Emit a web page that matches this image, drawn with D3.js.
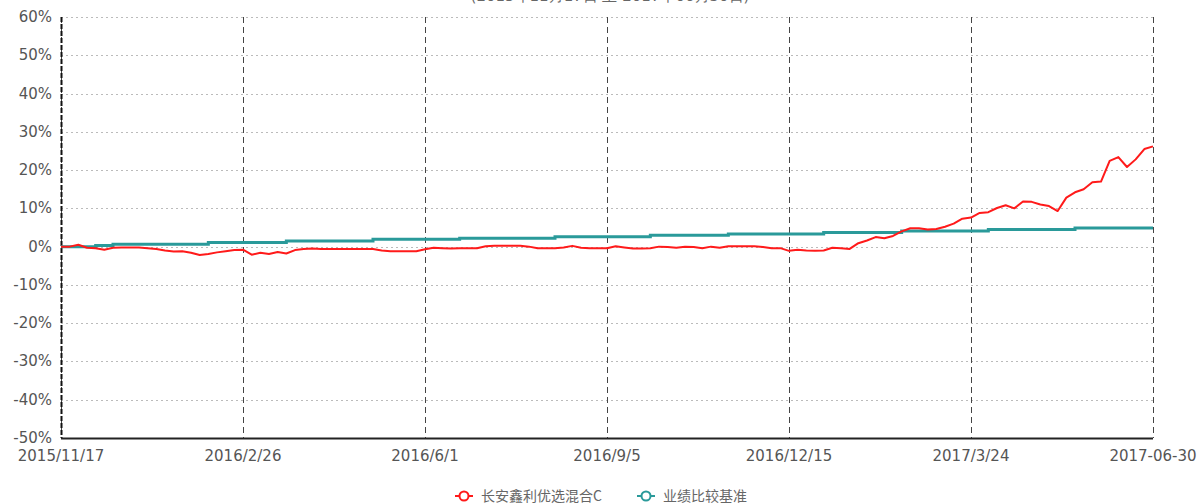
<!DOCTYPE html>
<html>
<head>
<meta charset="utf-8">
<script src="https://cdn.jsdelivr.net/npm/d3@7"></script>
<style>
  html, body { margin: 0; padding: 0; background: #fff; }
  svg { display: block; }
</style>
</head>
<body>
<script>
// tick labels sit on every 21st sample point
var tickLabels = ["2015/11/17", "2016/2/26", "2016/6/1", "2016/9/5", "2016/12/15", "2017/3/24", "2017-06-30"];
var tickIndex = [0, 21, 42, 63, 84, 105, 126];
var yTicks = [60, 50, 40, 30, 20, 10, 0, -10, -20, -30, -40, -50];

var seriesNames = ["长安鑫利优选混合C", "业绩比较基准"];

// fund return (%)
var fundValues = [
    0, 0, 0.5, -0.3, -0.4, -0.8, -0.3, -0.2, -0.2, -0.2,
    -0.4, -0.6, -1.0, -1.3, -1.2, -1.6, -2.2, -1.9, -1.5, -1.2,
    -0.9, -0.8, -2.1, -1.6, -1.9, -1.4, -1.8, -0.9, -0.6, -0.5,
    -0.6, -0.6, -0.6, -0.6, -0.6, -0.6, -0.6, -1.0, -1.2, -1.2,
    -1.2, -1.2, -0.7, -0.3, -0.4, -0.5, -0.4, -0.4, -0.4, 0.1,
    0.2, 0.2, 0.2, 0.2, 0.0, -0.4, -0.4, -0.4, -0.2, 0.2,
    -0.3, -0.4, -0.4, -0.4, 0.1, -0.2, -0.5, -0.5, -0.4, 0.0,
    -0.1, -0.3, 0.0, -0.1, -0.4, 0.0, -0.3, 0.1, 0.1, 0.1,
    0.1, -0.1, -0.4, -0.4, -1.1, -0.8, -1.0, -1.1, -1.0, -0.3,
    -0.4, -0.6, 0.9, 1.6, 2.5, 2.2, 2.8, 4.0, 4.8, 4.8,
    4.5, 4.6, 5.2, 6.0, 7.3, 7.6, 8.8, 9.0, 10.1, 10.8,
    10.0, 11.8, 11.7, 11.0, 10.6, 9.3, 12.8, 14.2, 15.0, 16.8,
    17.0, 22.4, 23.4, 20.8, 22.8, 25.5, 26.2
];

// benchmark return (%)
var benchValues = [
    0, 0, 0, 0, 0.3, 0.3, 0.6, 0.6, 0.6, 0.6,
    0.6, 0.6, 0.6, 0.6, 0.6, 0.6, 0.6, 1.1, 1.1, 1.1,
    1.1, 1.1, 1.1, 1.1, 1.1, 1.1, 1.5, 1.5, 1.5, 1.5,
    1.5, 1.5, 1.5, 1.5, 1.5, 1.5, 1.9, 1.9, 1.9, 1.9,
    1.9, 1.9, 1.9, 1.9, 1.9, 1.9, 2.2, 2.2, 2.2, 2.2,
    2.2, 2.2, 2.2, 2.2, 2.2, 2.2, 2.2, 2.6, 2.6, 2.6,
    2.6, 2.6, 2.6, 2.6, 2.6, 2.6, 2.6, 2.6, 3.0, 3.0,
    3.0, 3.0, 3.0, 3.0, 3.0, 3.0, 3.0, 3.3, 3.3, 3.3,
    3.3, 3.3, 3.3, 3.3, 3.3, 3.3, 3.3, 3.3, 3.7, 3.7,
    3.7, 3.7, 3.7, 3.7, 3.7, 3.7, 3.7, 4.1, 4.1, 4.1,
    4.1, 4.1, 4.1, 4.1, 4.1, 4.1, 4.1, 4.5, 4.5, 4.5,
    4.5, 4.5, 4.5, 4.5, 4.5, 4.5, 4.5, 4.9, 4.9, 4.9,
    4.9, 4.9, 4.9, 4.9, 4.9, 4.9, 4.9
];

var seriesColors = ["#ff1a1a", "#2a9a9a"];

var width = 1201, height = 504;
var margin = {top: 17, right: 48, bottom: 66, left: 61};

var svg = d3.select("body").append("svg")
    .attr("width", width)
    .attr("height", height);

var x = d3.scaleLinear()
    .domain([0, fundValues.length - 1])
    .range([margin.left, width - margin.right]);

var y = d3.scaleLinear()
    .domain([-50, 60])
    .range([height - margin.bottom, margin.top]);

var labelFont = "DejaVu Sans, Verdana, sans-serif";

// title is scrolled almost out of view in the reference
svg.append("text")
    .attr("x", 610)
    .attr("y", 1)
    .attr("text-anchor", "middle")
    .style("font", "15px " + labelFont)
    .attr("fill", "#666")
    .text("(2015年11月17日 至 2017年06月30日)");

// horizontal dotted grid
svg.append("g")
    .selectAll("line")
    .data(yTicks)
    .join("line")
    .attr("x1", margin.left)
    .attr("x2", width - margin.right)
    .attr("y1", d => Math.round(y(d)) + 0.5)
    .attr("y2", d => Math.round(y(d)) + 0.5)
    .attr("stroke", "#bbb")
    .attr("stroke-dasharray", "2,3");

// vertical dashed grid
svg.append("g")
    .selectAll("line")
    .data(tickIndex)
    .join("line")
    .attr("x1", d => Math.round(x(d)) + 0.5)
    .attr("x2", d => Math.round(x(d)) + 0.5)
    .attr("y1", margin.top)
    .attr("y2", height - margin.bottom)
    .attr("stroke", "#444")
    .attr("stroke-dasharray", "6,4");

// left axis: heavy dashed
svg.append("line")
    .attr("x1", margin.left + 0.5)
    .attr("x2", margin.left + 0.5)
    .attr("y1", margin.top)
    .attr("y2", height - margin.bottom)
    .attr("stroke", "#111")
    .attr("stroke-width", 2)
    .attr("stroke-dasharray", "5,2");

// bottom axis
svg.append("line")
    .attr("x1", margin.left)
    .attr("x2", width - margin.right)
    .attr("y1", height - margin.bottom + 0.5)
    .attr("y2", height - margin.bottom + 0.5)
    .attr("stroke", "#222")
    .attr("stroke-width", 2);

// y labels
svg.append("g")
    .selectAll("text")
    .data(yTicks)
    .join("text")
    .attr("x", 52)
    .attr("y", d => y(d) + 5)
    .attr("text-anchor", "end")
    .style("font", "15px " + labelFont)
    .attr("fill", "#555")
    .text(d => d + "%");

// x labels
svg.append("g")
    .selectAll("text")
    .data(tickIndex)
    .join("text")
    .attr("x", d => x(d))
    .attr("y", 461)
    .attr("text-anchor", "middle")
    .style("font", "15px " + labelFont)
    .attr("fill", "#555")
    .text((d, i) => tickLabels[i]);

var line = d3.line()
    .x((d, i) => x(i))
    .y(d => y(d));

svg.append("path")
    .datum(benchValues)
    .attr("d", line.curve(d3.curveStepAfter))
    .attr("fill", "none")
    .attr("stroke", seriesColors[1])
    .attr("stroke-width", 3);

svg.append("path")
    .datum(fundValues)
    .attr("d", line.curve(d3.curveLinear))
    .attr("fill", "none")
    .attr("stroke", seriesColors[0])
    .attr("stroke-width", 2)
    .attr("stroke-linejoin", "round");

// legend
var legendX = [455, 637];
var legend = svg.append("g")
    .selectAll("g")
    .data(seriesNames)
    .join("g")
    .attr("transform", (d, i) => `translate(${legendX[i]},496)`);

legend.append("line")
    .attr("x1", 0).attr("x2", 18)
    .attr("stroke", (d, i) => seriesColors[i])
    .attr("stroke-width", 2);

legend.append("circle")
    .attr("cx", 9)
    .attr("r", 4.5)
    .attr("fill", "#fff")
    .attr("stroke", (d, i) => seriesColors[i])
    .attr("stroke-width", 2);

legend.append("text")
    .attr("x", 26)
    .attr("y", 5)
    .style("font", "14px 'Noto Sans CJK SC', " + labelFont)
    .attr("fill", "#666")
    .text(d => d);
</script>
</body>
</html>
